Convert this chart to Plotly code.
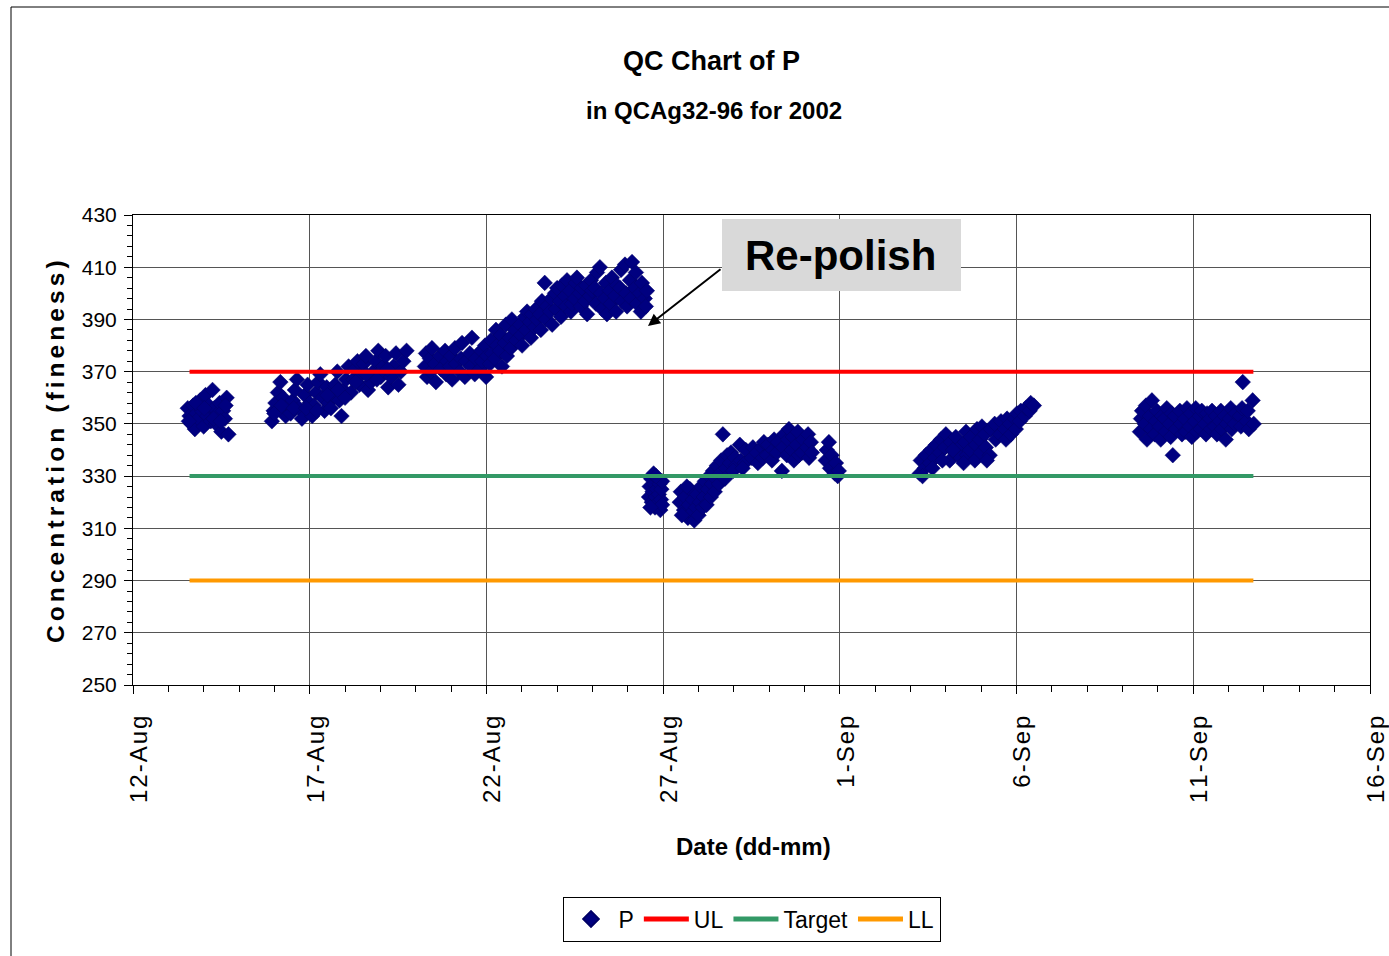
import pandas as pd
import plotly.graph_objects as go

# ---------------- data ----------------
start_date = "2002-08-12"
end_date = "2002-09-16"
tick_dates = ["2002-08-12", "2002-08-17", "2002-08-22", "2002-08-27",
              "2002-09-01", "2002-09-06", "2002-09-11", "2002-09-16"]
tick_labels = ["12-Aug", "17-Aug", "22-Aug", "27-Aug", "1-Sep", "6-Sep", "11-Sep", "16-Sep"]

# (days after 12-Aug 00:00, concentration)
batch_13aug = [(1.55, 356), (1.60, 353), (1.65, 350), (1.70, 357), (1.75, 348), (1.80, 354),
               (1.85, 352), (1.90, 359), (1.95, 355), (2.00, 349), (2.05, 361), (2.10, 353),
               (2.15, 357), (2.20, 351), (2.25, 363), (2.30, 356), (2.35, 350), (2.40, 354),
               (2.45, 358), (2.50, 347), (2.55, 355), (2.60, 352), (2.65, 360), (2.70, 346),
               (1.58, 351), (1.78, 358), (2.02, 356), (2.28, 352), (2.48, 351), (2.62, 357)]

batch_16aug = [(3.93, 351), (3.98, 355), (4.03, 358), (4.10, 362), (4.17, 366), (4.25, 360),
               (4.32, 353), (4.40, 357), (4.46, 354), (4.52, 359), (4.58, 363), (4.64, 367),
               (4.70, 356), (4.78, 352), (4.86, 361), (4.94, 365), (5.00, 358), (5.07, 353),
               (5.12, 357), (5.18, 362), (5.24, 366), (5.30, 369), (5.36, 360), (5.42, 355),
               (5.48, 364), (5.54, 358), (5.60, 356), (5.66, 361), (5.72, 365), (5.78, 370),
               (5.84, 359), (5.90, 353), (5.96, 363), (6.03, 367), (6.10, 372), (6.17, 362),
               (6.23, 367), (6.29, 371), (6.35, 374), (6.41, 365), (6.47, 369), (6.53, 373),
               (6.59, 376), (6.65, 363), (6.73, 366), (6.80, 370), (6.87, 374), (6.94, 378),
               (7.01, 368), (7.08, 372), (7.15, 376), (7.22, 364), (7.30, 368), (7.37, 372),
               (7.44, 377), (7.51, 365), (7.58, 370), (7.65, 374), (7.74, 378),
               (4.00, 354), (4.20, 357), (4.55, 356), (4.90, 356), (5.20, 355), (5.50, 361),
               (5.80, 363), (6.00, 360), (6.30, 366), (6.60, 369), (6.90, 367), (7.20, 371)]

batch_20aug = [(8.26, 372), (8.29, 377), (8.32, 368), (8.40, 375), (8.43, 370), (8.46, 379),
               (8.54, 373), (8.57, 366), (8.68, 376), (8.71, 371), (8.83, 378), (8.86, 369),
               (8.89, 374), (8.97, 372), (9.00, 376), (9.03, 367), (9.11, 379), (9.14, 373),
               (9.25, 370), (9.28, 375), (9.31, 381), (9.39, 368), (9.42, 374), (9.53, 377),
               (9.56, 372), (9.59, 383), (9.67, 369), (9.70, 375), (9.82, 371), (9.85, 378),
               (9.88, 374), (9.96, 380), (9.99, 368), (10.02, 376), (10.10, 373), (10.13, 382),
               (10.16, 377), (10.24, 375), (10.27, 386), (10.30, 380), (10.38, 378), (10.41, 384),
               (10.44, 372), (10.52, 381), (10.55, 388), (10.58, 376), (10.66, 383), (10.69, 379),
               (10.72, 390), (10.81, 386), (10.84, 382), (10.95, 388), (10.98, 384), (11.01, 380),
               (11.09, 391), (11.12, 386), (11.15, 393), (11.23, 389), (11.26, 383), (11.29, 392),
               (11.37, 387), (11.40, 394), (11.43, 390), (11.51, 392), (11.54, 386), (11.57, 397),
               (11.65, 404), (11.68, 390), (11.71, 395), (11.80, 393), (11.83, 398), (11.86, 388),
               (11.94, 400), (11.97, 394), (12.00, 402), (12.08, 397), (12.11, 391), (12.14, 403),
               (12.22, 399), (12.25, 395), (12.28, 405), (12.36, 401), (12.39, 393), (12.42, 396),
               (12.50, 398), (12.53, 404), (12.56, 406), (12.64, 400), (12.67, 395), (12.70, 402),
               (12.79, 397), (12.82, 403), (12.85, 392), (12.93, 399), (12.96, 405), (12.99, 401),
               (13.07, 402), (13.10, 396), (13.13, 408), (13.21, 410), (13.24, 400), (13.27, 394),
               (13.35, 398), (13.38, 404), (13.41, 392), (13.49, 401), (13.52, 396), (13.55, 406),
               (13.64, 399), (13.67, 393), (13.70, 403), (13.78, 402), (13.81, 409), (13.84, 397),
               (13.92, 411), (13.95, 400), (13.98, 395), (14.06, 405), (14.09, 398), (14.12, 412),
               (14.20, 402), (14.23, 408), (14.26, 396), (14.34, 400), (14.37, 393), (14.40, 404),
               (14.48, 398), (14.51, 395), (14.54, 401)]

batch_26aug = [(14.60, 322), (14.62, 326), (14.66, 329), (14.68, 320), (14.70, 324), (14.73, 331),
               (14.75, 327), (14.77, 318), (14.79, 322), (14.82, 325), (14.84, 329), (14.86, 320),
               (14.88, 323), (14.90, 327), (14.92, 317), (14.94, 321), (14.95, 325), (14.97, 328),
               (14.97, 319), (14.64, 318), (14.80, 330)]

batch_27aug = [(15.47, 320), (15.50, 324), (15.59, 317), (15.62, 322), (15.70, 314), (15.73, 319),
               (15.76, 325), (15.81, 316), (15.84, 321), (15.93, 318), (15.96, 323), (16.04, 320),
               (16.07, 326), (16.15, 322), (16.18, 328), (16.27, 325), (16.30, 330), (16.38, 327),
               (16.41, 332), (16.49, 329), (16.52, 334), (16.61, 331), (16.64, 336), (16.69, 346),
               (16.78, 333), (16.81, 338), (16.89, 335), (16.92, 339), (17.03, 337), (17.06, 334),
               (17.17, 342), (17.20, 336), (17.31, 335), (17.34, 340), (17.51, 337), (17.54, 341),
               (17.65, 339), (17.68, 335), (17.79, 341), (17.82, 337), (17.85, 343), (17.94, 338),
               (17.97, 342), (18.08, 336), (18.11, 340), (18.14, 344), (18.22, 339), (18.25, 343),
               (18.36, 332), (18.39, 341), (18.42, 346), (18.50, 338), (18.53, 344), (18.56, 348),
               (18.64, 340), (18.67, 345), (18.70, 336), (18.78, 342), (18.81, 347), (18.84, 338),
               (18.93, 339), (18.96, 344), (19.07, 341), (19.10, 346), (19.13, 337), (19.18, 343),
               (19.21, 339),
               (15.53, 315), (15.67, 326), (15.88, 313), (16.00, 315), (16.12, 318), (16.23, 319),
               (16.35, 322), (16.46, 324), (16.58, 327), (16.75, 329), (16.98, 332), (17.25, 333)]

batch_31aug = [(19.60, 336), (19.63, 340), (19.69, 343), (19.72, 333), (19.77, 338), (19.86, 331),
               (19.89, 335), (19.94, 330), (19.97, 332)]

batch_3sep = [(22.26, 331), (22.29, 336), (22.40, 333), (22.43, 338), (22.55, 335), (22.58, 340),
              (22.69, 337), (22.72, 342), (22.83, 339), (22.86, 344), (22.97, 341), (23.00, 346),
              (23.11, 336), (23.14, 343), (23.25, 339), (23.28, 345), (23.39, 341), (23.42, 337),
              (23.54, 343), (23.57, 347), (23.60, 338), (23.68, 340), (23.71, 345), (23.82, 336),
              (23.85, 342), (23.88, 348), (23.96, 344), (23.99, 339), (24.02, 349), (24.10, 346),
              (24.13, 341), (24.24, 338), (24.27, 348), (24.38, 350), (24.41, 344), (24.53, 346),
              (24.56, 351), (24.67, 348), (24.70, 344), (24.73, 352), (24.81, 350), (24.84, 346),
              (24.95, 352), (24.98, 348), (25.01, 354), (25.09, 351), (25.12, 355), (25.23, 353),
              (25.26, 356), (25.37, 355), (25.40, 358), (25.49, 357),
              (22.34, 330), (22.62, 333), (22.90, 336), (23.20, 340), (23.50, 335), (24.16, 336)]

batch_9sep = [(28.49, 347), (28.52, 352), (28.55, 355), (28.63, 350), (28.66, 357), (28.69, 344),
              (28.77, 353), (28.80, 348), (28.83, 359), (28.91, 346), (28.94, 351), (28.97, 355),
              (29.05, 349), (29.08, 344), (29.11, 353), (29.19, 352), (29.22, 347), (29.25, 356),
              (29.33, 350), (29.36, 345), (29.39, 354), (29.42, 338), (29.48, 353), (29.51, 348),
              (29.62, 355), (29.65, 350), (29.68, 346), (29.76, 352), (29.79, 347), (29.82, 356),
              (29.90, 349), (29.93, 354), (29.96, 345), (30.04, 351), (30.07, 356), (30.10, 347),
              (30.18, 353), (30.21, 348), (30.24, 355), (30.33, 350), (30.36, 346), (30.39, 354),
              (30.47, 352), (30.50, 348), (30.53, 355), (30.61, 349), (30.64, 353), (30.67, 346),
              (30.75, 351), (30.78, 355), (30.81, 348), (30.89, 353), (30.92, 344), (30.95, 350),
              (31.03, 352), (31.06, 356), (31.09, 348), (31.17, 350), (31.20, 354), (31.32, 353),
              (31.35, 349), (31.38, 356), (31.40, 366), (31.51, 351), (31.54, 355), (31.57, 348),
              (31.68, 359), (31.71, 350)]

limit_days = [1.6, 31.7]
UL = 370
TARGET = 330
LL = 290

# ---------------- build ----------------
base = pd.Timestamp(start_date)
all_points = (batch_13aug + batch_16aug + batch_20aug + batch_26aug + batch_27aug
              + batch_31aug + batch_3sep + batch_9sep)
p_x = [base + pd.Timedelta(days=d) for d, _ in all_points]
p_y = [v for _, v in all_points]
lim_x = [base + pd.Timedelta(days=d) for d in limit_days]

SANS = "Liberation Sans, Arial, sans-serif"

fig = go.Figure()
fig.add_trace(go.Scatter(x=p_x, y=p_y, mode="markers", name="P",
                         marker=dict(symbol="diamond", size=12, color="#000080",
                                     line=dict(width=0.5, color="#000066"))))
fig.add_trace(go.Scatter(x=lim_x, y=[UL, UL], mode="lines", name="UL",
                         line=dict(color="#FF0000", width=4)))
fig.add_trace(go.Scatter(x=lim_x, y=[TARGET, TARGET], mode="lines", name="Target",
                         line=dict(color="#339966", width=4)))
fig.add_trace(go.Scatter(x=lim_x, y=[LL, LL], mode="lines", name="LL",
                         line=dict(color="#FF9900", width=4)))

hs = "\u200a"
spaced_ticks = [hs.join(list(t)) for t in tick_labels]

fig.update_layout(
    width=1389, height=956,
    margin=dict(l=133, r=19, t=215, b=271, autoexpand=False),
    paper_bgcolor="white", plot_bgcolor="white",
    showlegend=True,
    legend=dict(orientation="h", x=0.5, xanchor="center", y=-0.45, yanchor="top",
                bordercolor="black", borderwidth=1, bgcolor="white",
                font=dict(family=SANS, size=23, color="black"),
                itemsizing="constant", tracegroupgap=0, itemwidth=45),
    font=dict(family=SANS, color="black"),
)

fig.update_xaxes(
    type="date", range=[start_date, end_date], automargin=False,
    tickmode="array", tickvals=tick_dates, ticktext=spaced_ticks,
    tickangle=-90, tickfont=dict(family=SANS, size=24, color="black"),
    ticklabelstandoff=12, ticklabelshift=6,
    ticks="outside", ticklen=8, tickcolor="black",
    showgrid=True, gridcolor="#555555", gridwidth=1,
    showline=True, linecolor="black", linewidth=1, mirror=True,
    minor=dict(dtick=86400000, tick0=start_date, ticks="outside", ticklen=6,
               tickcolor="black", showgrid=False),
)
fig.update_yaxes(
    range=[250, 430], tickmode="linear", tick0=250, dtick=20, automargin=False,
    tickfont=dict(family=SANS, size=21, color="black"),
    ticklabelstandoff=3,
    ticks="outside", ticklen=8, tickcolor="black",
    showgrid=True, gridcolor="#555555", gridwidth=1,
    showline=True, linecolor="black", linewidth=1, mirror=True,
    minor=dict(dtick=4, tick0=250, ticks="outside", ticklen=5, tickcolor="black", showgrid=False),
)

def px_x(p):
    return (p - 133) / 1237.0

def px_y(p):
    return (685 - p) / 470.0

# outer chart frame
fig.add_shape(type="rect", xref="paper", yref="paper",
              x0=px_x(11), x1=px_x(1400), y0=px_y(1000), y1=px_y(7),
              line=dict(color="black", width=1), layer="below")

# Re-polish box
fig.add_shape(type="rect", xref="paper", yref="paper",
              x0=px_x(722), x1=px_x(961), y0=px_y(291), y1=px_y(219),
              fillcolor="#D9D9D9", line=dict(width=0), layer="above")

annots = [
    dict(text="<b>QC Chart of P</b>", x=px_x(711), y=px_y(61), font=dict(family=SANS, size=27)),
    dict(text="<b>in QCAg32-96 for 2002</b>", x=px_x(714), y=px_y(110), font=dict(family=SANS, size=24)),
    dict(text="<b>Date (dd-mm)</b>", x=px_x(753), y=px_y(846), font=dict(family=SANS, size=24)),
    dict(text="<b>" + (hs * 2).join(list("Concentration (fineness)")) + "</b>", x=px_x(55), y=px_y(452),
         textangle=-90, font=dict(family=SANS, size=24.5)),
    dict(text="<b>Re-polish</b>", x=px_x(840), y=px_y(256), font=dict(family=SANS, size=42)),
]
for a in annots:
    a.update(xref="paper", yref="paper", showarrow=False, xanchor="center", yanchor="middle")
    a["font"]["color"] = "black"
    fig.add_annotation(**a)

fig.add_annotation(xref="paper", yref="paper", x=px_x(648), y=px_y(326),
                   ax=74, ay=-58, axref="pixel", ayref="pixel", text="",
                   showarrow=True, arrowhead=2, arrowsize=1.2, arrowwidth=2, arrowcolor="black")

fig.write_html("out.html", config={"displayModeBar": False},
               post_script="document.body.style.margin='0';document.body.style.overflow='hidden';")
